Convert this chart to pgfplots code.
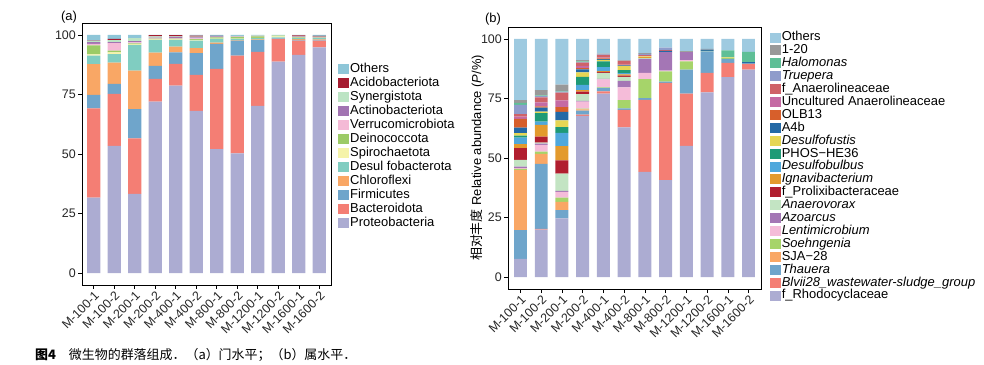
\documentclass[border=0pt]{standalone}
\usepackage{fontspec}
\setmainfont{Liberation Sans}
\newfontfamily\cjk{Noto Sans CJK SC}
\usepackage{pgfplots}
\usepackage{pgfplotstable}
\pgfplotsset{compat=1.18}

% Panel (a): phylum level
\pgfplotstableread{
x Pro Bac Fir Chl Des Spi Dei Ver Act Syn Aci Oth
1 31.7 37.5 5.6 12.9 3.6 0.5 3.8 0.6 0.8 0.5 0.1 2.4
2 53.4 21.8 4.2 9.0 3.5 0.8 0.7 3.1 0.5 0.8 0.5 1.7
3 33.3 23.3 12.2 16.2 10.8 0.3 0.3 0.5 0.5 1.2 0 1.4
4 72.0 9.5 5.5 5.6 5.3 0.2 0.3 0.2 0.3 0.5 0.5 0.1
5 78.7 9.1 4.9 2.4 2.8 0.2 0.3 0.2 0.6 0.2 0.5 0.1
6 68.1 15.1 9.1 2.2 3.1 0.3 0.3 0.3 0.5 0.3 0.4 0.3
7 52.0 33.7 10.5 0.6 1.5 0.1 0.6 0.1 0.3 0.1 0.1 0.4
8 50.3 41.0 6.3 0.2 0.5 0.1 0.8 0.1 0.1 0.2 0 0.4
9 70.2 22.7 5.0 0.2 0.6 0.1 0.6 0.1 0.1 0.2 0 0.2
10 88.8 9.4 0.3 0.2 0.3 0.4 0.3 0 0 0.1 0 0.2
11 91.6 6.0 0.3 0.3 0.4 0.2 0.2 0.1 0.2 0.1 0.4 0.2
12 94.8 2.8 0.3 0.2 0.5 0.1 0.2 0.1 0.2 0.1 0.3 0.4
}\tabA

% Panel (b): genus level
\pgfplotstableread{
x Rho Blv Thau SJA Soeh Lent Azo Anv Prol Igna Dbul PHOS Dfus Afb OLB Unc fAna True Halo One Oth
1 7.6 0 12.1 25.2 0.5 0.3 0.7 2.8 4.9 1.7 2.8 0.8 1.0 2.4 3.6 1.0 1.0 3.9 0.8 1.2 25.7
2 19.9 0.3 27.3 4.2 1.0 2.8 0.5 0.5 2.5 4.9 1.4 3.5 0.7 1.7 0.5 1.7 2.1 0.5 0.3 2.2 21.5
3 24.6 0 3.5 3.5 1.8 2.4 0.4 7.2 5.6 6.0 5.6 2.4 2.8 3.6 2.0 2.8 3.2 0.5 0.3 2.6 19.2
4 67.7 0.5 1.7 0.5 0.3 3.0 0.3 2.8 1.1 0.6 2.2 3.4 1.8 1.3 0.5 1.0 1.3 0.3 0.3 0.5 8.9
5 77.0 1.0 1.4 0 0.3 3.3 0.2 2.5 0.5 0.3 1.7 2.4 0.6 0.3 0.3 0.3 1.2 0.2 0 0.3 6.2
6 62.9 7.3 0.6 0 3.5 5.3 2.8 1.7 0.5 0.5 0.5 1.3 1.7 0.3 0.3 0.3 1.3 0 0 0.2 9.0
7 44.2 30.2 0.7 0 8.0 2.6 5.9 0.3 0 0.4 0 0 0.4 0 0 0.2 0.3 0.5 0 0.3 6.0
8 40.7 40.8 0.6 0 4.3 0.3 7.7 0 0 0 0 0 0 0.6 0 0 0.3 1.0 0 0 3.7
9 55.1 21.9 10.1 0 3.5 0.5 3.3 0.2 0 0 0 0 0 0 0 0 0 0 0 0.3 5.1
10 77.5 8.2 9.1 0 0.2 0 0 0 0 0 0 0 0 0.5 0 0 0 0 0 0.3 4.2
11 84.0 5.9 1.7 0 0.3 0 0 0 0 0 0 0 0.3 0 0 0 0 0 3.0 0 4.8
12 87.1 2.4 0.3 0 0 0 0 0 0 0 0 0 0 0.4 0 0 0 0 4.4 0 5.4
}\tabB

% colours panel a
\definecolor{aPro}{HTML}{ACACD2}
\definecolor{aBac}{HTML}{F47E74}
\definecolor{aFir}{HTML}{6FA5CB}
\definecolor{aChl}{HTML}{F9A765}
\definecolor{aDes}{HTML}{80CDC1}
\definecolor{aSpi}{HTML}{F5F3A9}
\definecolor{aDei}{HTML}{9CCB66}
\definecolor{aVer}{HTML}{F4BAD6}
\definecolor{aAct}{HTML}{A274B2}
\definecolor{aSyn}{HTML}{BCE4C4}
\definecolor{aAci}{HTML}{A51C30}
\definecolor{aOth}{HTML}{8EC6D8}
% colours panel b
\definecolor{bRho}{HTML}{ACACD2}
\definecolor{bBlv}{HTML}{F47E74}
\definecolor{bThau}{HTML}{6FA5CB}
\definecolor{bSJA}{HTML}{F9A765}
\definecolor{bSoeh}{HTML}{A6D46A}
\definecolor{bLent}{HTML}{F5BCD9}
\definecolor{bAzo}{HTML}{A476B5}
\definecolor{bAnv}{HTML}{C3E4C3}
\definecolor{bProl}{HTML}{B11E2F}
\definecolor{bIgna}{HTML}{E39A2D}
\definecolor{bDbul}{HTML}{4FA8DC}
\definecolor{bPHOS}{HTML}{1E9A76}
\definecolor{bDfus}{HTML}{E6D654}
\definecolor{bAfb}{HTML}{2369A6}
\definecolor{bOLB}{HTML}{D75F2B}
\definecolor{bUnc}{HTML}{C56AA4}
\definecolor{bfAna}{HTML}{CF6268}
\definecolor{bTrue}{HTML}{8F9CCB}
\definecolor{bHalo}{HTML}{5FBF97}
\definecolor{bOne}{HTML}{999999}
\definecolor{bOth}{HTML}{9ECAE0}

\pgfplotsset{
  sq/.style={legend image code/.code={\fill[##1] (0bp,-5bp) rectangle (11bp,5bp);}},
  panel/.style={
    scale only axis,
    ybar stacked,
    ymin=-5, ymax=105,
    ytick={0,25,50,75,100},
    xtick={1,...,12},
    xticklabels={M-100-1,M-100-2,M-200-1,M-200-2,M-400-1,M-400-2,M-800-1,M-800-2,M-1200-1,M-1200-2,M-1600-1,M-1600-2},
    tick pos=left,
    tick align=outside,
    major tick length=4bp,
    every tick/.style={black, line width=0.6bp},
    axis line style={black, line width=0.8bp},
    /pgf/number format/assume math mode=true,
    yticklabel style={font=\fontsize{12.5}{14}\selectfont, inner sep=2bp, text=black!85},
    xticklabel style={font=\fontsize{12.5}{14}\selectfont, rotate=45, anchor=north east, inner sep=1bp, text=black!85},
    reverse legend,
    legend cell align=left,
  },
}

\begin{document}
\begin{tikzpicture}
\useasboundingbox (0,0) rectangle (984bp,365bp);

\begin{axis}[panel,
  at={(82bp,80bp)}, anchor=south west,
  width=249bp, height=262bp,
  xmin=0.43, xmax=12.57,
  bar width=0.65,
  legend style={draw=none, fill=none, at={(1.028,0.85)}, anchor=north west,
    font=\fontsize{13}{14}\selectfont, inner sep=0pt, row sep=0pt,
    nodes={inner sep=1bp, text height=9.3bp, text depth=2.7bp}},
]
\addplot[fill=aPro, draw=none, sq] table[x=x, y=Pro] {\tabA};
\addlegendentry{Proteobacteria}
\addplot[fill=aBac, draw=none, sq] table[x=x, y=Bac] {\tabA};
\addlegendentry{Bacteroidota}
\addplot[fill=aFir, draw=none, sq] table[x=x, y=Fir] {\tabA};
\addlegendentry{Firmicutes}
\addplot[fill=aChl, draw=none, sq] table[x=x, y=Chl] {\tabA};
\addlegendentry{Chloroflexi}
\addplot[fill=aDes, draw=none, sq] table[x=x, y=Des] {\tabA};
\addlegendentry{Desul fobacterota}
\addplot[fill=aSpi, draw=none, sq] table[x=x, y=Spi] {\tabA};
\addlegendentry{Spirochaetota}
\addplot[fill=aDei, draw=none, sq] table[x=x, y=Dei] {\tabA};
\addlegendentry{Deinococcota}
\addplot[fill=aVer, draw=none, sq] table[x=x, y=Ver] {\tabA};
\addlegendentry{Verrucomicrobiota}
\addplot[fill=aAct, draw=none, sq] table[x=x, y=Act] {\tabA};
\addlegendentry{Actinobacteriota}
\addplot[fill=aSyn, draw=none, sq] table[x=x, y=Syn] {\tabA};
\addlegendentry{Synergistota}
\addplot[fill=aAci, draw=none, sq] table[x=x, y=Aci] {\tabA};
\addlegendentry{Acidobacteriota}
\addplot[fill=aOth, draw=none, sq] table[x=x, y=Oth] {\tabA};
\addlegendentry{Others}
\end{axis}

\begin{axis}[panel,
  at={(508bp,76bp)}, anchor=south west,
  width=253bp, height=262bp,
  xmin=0.4, xmax=12.6,
  bar width=0.62,
  ylabel={{\cjk 相对丰度} Relative abundance (\textit{P}/\%)},
  every axis y label/.style={at={(axis description cs:0,0.5)}, xshift=-31bp, rotate=90, anchor=center, font=\fontsize{13}{15}\selectfont},
  legend style={draw=none, fill=none, at={(1.036,0.985)}, anchor=north west,
    font=\fontsize{13}{14}\selectfont, inner sep=0pt, row sep=0pt,
    nodes={inner sep=0.5bp, text height=9.3bp, text depth=2.6bp}},
]
\addplot[fill=bRho, draw=none, sq] table[x=x, y=Rho] {\tabB};
\addlegendentry{f\_Rhodocyclaceae}
\addplot[fill=bBlv, draw=none, sq] table[x=x, y=Blv] {\tabB};
\addlegendentry{\textit{Blvii28\_wastewater-sludge\_group}}
\addplot[fill=bThau, draw=none, sq] table[x=x, y=Thau] {\tabB};
\addlegendentry{\textit{Thauera}}
\addplot[fill=bSJA, draw=none, sq] table[x=x, y=SJA] {\tabB};
\addlegendentry{SJA−28}
\addplot[fill=bSoeh, draw=none, sq] table[x=x, y=Soeh] {\tabB};
\addlegendentry{\textit{Soehngenia}}
\addplot[fill=bLent, draw=none, sq] table[x=x, y=Lent] {\tabB};
\addlegendentry{\textit{Lentimicrobium}}
\addplot[fill=bAzo, draw=none, sq] table[x=x, y=Azo] {\tabB};
\addlegendentry{\textit{Azoarcus}}
\addplot[fill=bAnv, draw=none, sq] table[x=x, y=Anv] {\tabB};
\addlegendentry{\textit{Anaerovorax}}
\addplot[fill=bProl, draw=none, sq] table[x=x, y=Prol] {\tabB};
\addlegendentry{f\_Prolixibacteraceae}
\addplot[fill=bIgna, draw=none, sq] table[x=x, y=Igna] {\tabB};
\addlegendentry{\textit{Ignavibacterium}}
\addplot[fill=bDbul, draw=none, sq] table[x=x, y=Dbul] {\tabB};
\addlegendentry{\textit{Desulfobulbus}}
\addplot[fill=bPHOS, draw=none, sq] table[x=x, y=PHOS] {\tabB};
\addlegendentry{PHOS−HE36}
\addplot[fill=bDfus, draw=none, sq] table[x=x, y=Dfus] {\tabB};
\addlegendentry{\textit{Desulfofustis}}
\addplot[fill=bAfb, draw=none, sq] table[x=x, y=Afb] {\tabB};
\addlegendentry{A4b}
\addplot[fill=bOLB, draw=none, sq] table[x=x, y=OLB] {\tabB};
\addlegendentry{OLB13}
\addplot[fill=bUnc, draw=none, sq] table[x=x, y=Unc] {\tabB};
\addlegendentry{Uncultured Anaerolineaceae}
\addplot[fill=bfAna, draw=none, sq] table[x=x, y=fAna] {\tabB};
\addlegendentry{f\_Anaerolineaceae}
\addplot[fill=bTrue, draw=none, sq] table[x=x, y=True] {\tabB};
\addlegendentry{\textit{Truepera}}
\addplot[fill=bHalo, draw=none, sq] table[x=x, y=Halo] {\tabB};
\addlegendentry{\textit{Halomonas}}
\addplot[fill=bOne, draw=none, sq] table[x=x, y=One] {\tabB};
\addlegendentry{1-20}
\addplot[fill=bOth, draw=none, sq] table[x=x, y=Oth] {\tabB};
\addlegendentry{Others}
\end{axis}

\node[font=\fontsize{13}{15}\selectfont] at (69bp,348bp) {(a)};
\node[font=\fontsize{13}{15}\selectfont] at (493bp,346bp) {(b)};
\node[anchor=west, font=\fontsize{13}{15}\selectfont\cjk, inner sep=0pt] at (35bp,10bp) {\textbf{图4}\quad 微生物的群落组成．（a）门水平；（b）属水平．};
\end{tikzpicture}
\end{document}
